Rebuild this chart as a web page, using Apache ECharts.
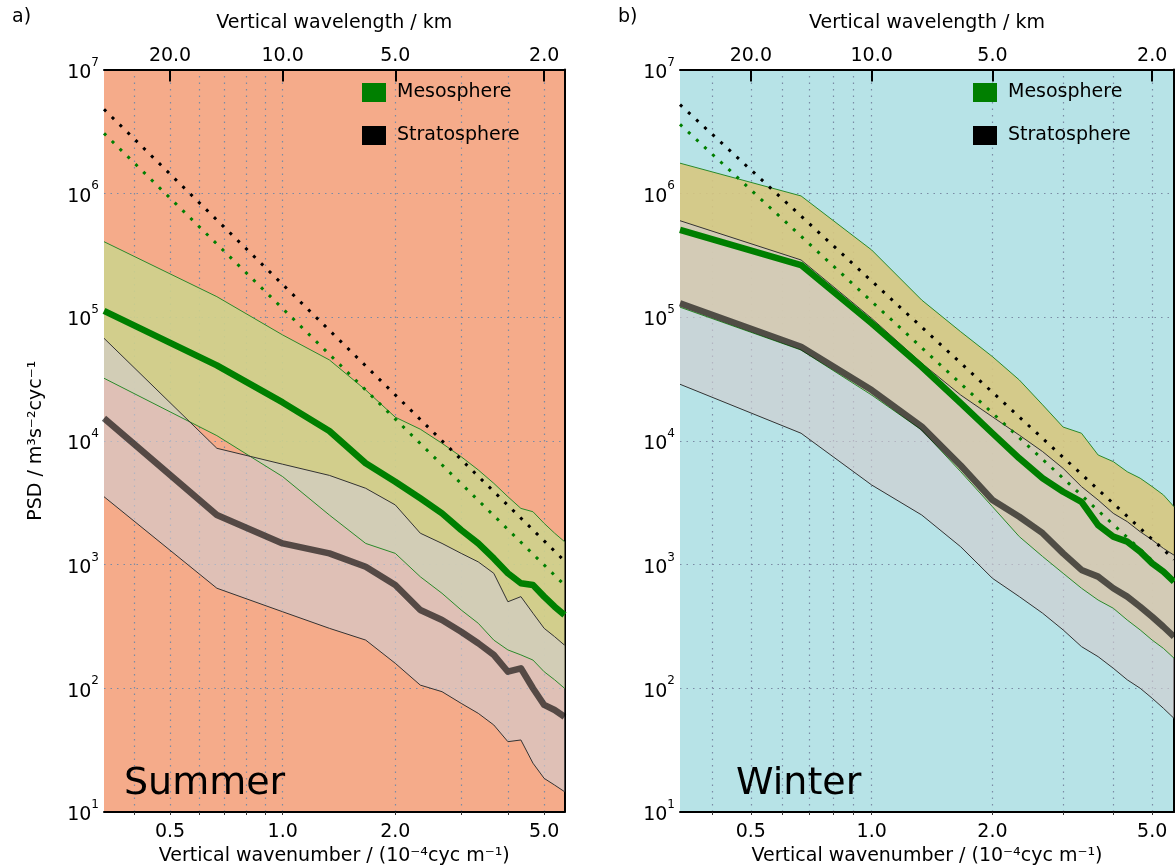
<!DOCTYPE html>
<html>
<head>
<meta charset="utf-8">
<script src="https://cdn.jsdelivr.net/npm/echarts@6/dist/echarts.min.js"></script>
<style>
html,body{margin:0;padding:0;background:#ffffff;}
#chart{width:1175px;height:868px;}
</style>
</head>
<body>
<div id="chart"></div>
<script>
// Vertical wavenumber (10^-4 cyc m^-1) at which the spectra are given
const K = [0.333, 0.667, 1.0, 1.333, 1.667, 2.0, 2.333, 2.667, 3.0, 3.333, 3.667, 4.0, 4.333, 4.667, 5.0, 5.333, 5.667];
const X_MIN = 0.333, X_MAX = 5.667;
const Y_MIN = 10, Y_MAX = 1e7;

// Summer (panel a)
const summerMesoUpper = [4.06e5, 1.46e5, 7.16e4, 4.50e4, 2.57e4, 1.55e4, 1.24e4, 9.53e3, 7.43e3, 5.81e3, 4.53e3, 3.53e3, 2.84e3, 2.67e3, 2.15e3, 1.79e3, 1.53e3];
const summerMesoMean  = [1.12e5, 4.07e4, 2.04e4, 1.20e4, 6.58e3, 4.67e3, 3.43e3, 2.59e3, 1.90e3, 1.48e3, 1.12e3, 849, 705, 682, 550, 456, 391];
const summerMesoLower = [3.20e4, 1.10e4, 5.13e3, 2.51e3, 1.48e3, 1.23e3, 796, 585, 429, 335, 245, 204, 186, 169, 136, 117, 100];
const summerStratUpper = [6.73e4, 8.69e3, 6.46e3, 5.25e3, 4.13e3, 3.03e3, 1.79e3, 1.48e3, 1.23e3, 1.05e3, 849, 500, 550, 404, 305, 261, 223];
const summerStratMean  = [1.52e4, 2.51e3, 1.48e3, 1.23e3, 959, 682, 429, 356, 286, 231, 186, 136, 145, 100, 73.3, 66.7, 58.9];
const summerStratLower = [3.53e3, 643, 415, 305, 245, 159, 106, 93.8, 75.5, 62.7, 50.5, 37.0, 38.2, 24.8, 18.7, 16.5, 14.6];
const summerStratRef = [[0.333, 4.77e6], [5.667, 1.07e3]];
const summerMesoRef  = [[0.333, 3.05e6], [5.667, 683]];

// Winter (panel b)
const winterMesoUpper = [1.75e6, 9.51e5, 3.48e5, 1.37e5, 7.60e4, 4.78e4, 3.10e4, 1.95e4, 1.29e4, 1.15e4, 7.67e3, 6.78e3, 5.62e3, 4.98e3, 4.26e3, 3.65e3, 2.93e3];
const winterMesoMean  = [5.05e5, 2.63e5, 8.89e4, 3.96e4, 2.01e4, 1.15e4, 7.21e3, 4.98e3, 3.87e3, 3.21e3, 2.08e3, 1.68e3, 1.53e3, 1.27e3, 1.02e3, 875, 726];
const winterMesoLower = [1.20e5, 5.41e4, 2.34e4, 1.22e4, 5.62e3, 2.93e3, 1.68e3, 1.16e3, 849, 643, 516, 443, 356, 296, 245, 210, 175];
const winterStratUpper = [6.0e5, 2.89e5, 9.75e4, 4.23e4, 2.34e4, 1.56e4, 1.11e4, 8.17e3, 5.98e3, 4.26e3, 3.32e3, 2.59e3, 2.22e3, 1.84e3, 1.58e3, 1.35e3, 1.19e3];
const winterStratMean  = [1.29e5, 5.75e4, 2.57e4, 1.30e4, 6.31e3, 3.32e3, 2.43e3, 1.79e3, 1.23e3, 904, 798, 643, 550, 456, 378, 314, 261];
const winterStratLower = [2.86e4, 1.15e4, 4.39e3, 2.51e3, 1.39e3, 773, 550, 404, 296, 217, 180, 145, 117, 100, 83.0, 68.9, 57.1];
const winterStratRef = [[0.333, 5.2e6], [5.667, 1.1e3]];
const winterMesoRef  = [[0.333, 3.6e6], [5.667, 740]];

// Ticks and labels
const X_GRID = [0.4, 0.5, 0.6, 0.7, 0.8, 0.9, 1, 2, 3, 4, 5];
const X_TICKS = [0.5, 1, 2, 5];
const X_TICK_LABELS = ['0.5', '1.0', '2.0', '5.0'];
const TOP_TICK_LABELS = ['20.0', '10.0', '5.0', '2.0'];
const Y_TICKS = [10, 100, 1e3, 1e4, 1e5, 1e6, 1e7];
const Y_TICK_EXP = ['1', '2', '3', '4', '5', '6', '7'];

const FONT = 'DejaVu Sans';
const GRID_LINE = {show: true, lineStyle: {color: '#7a8ba5', width: 1.2, type: [1.5, 5]}};

function nearestIdx(arr, v) {
  let best = 0, bd = Infinity;
  for (let i = 0; i < arr.length; i++) {
    const d = Math.abs(Math.log(arr[i]) - Math.log(v));
    if (d < bd) { bd = d; best = i; }
  }
  return best;
}

function axesFor(gridIndex) {
  const bottom = {
    type: 'log', gridIndex: gridIndex, position: 'bottom', min: X_MIN, max: X_MAX,
    name: 'Vertical wavenumber / (10\u207B\u2074cyc m\u207B\u00B9)',
    nameLocation: 'middle', nameGap: 33,
    nameTextStyle: {fontFamily: FONT, fontSize: 19, color: '#000'},
    axisLine: {show: true, lineStyle: {color: '#000', width: 2}},
    axisTick: {show: true, customValues: X_GRID, inside: false, length: 3, lineStyle: {color: '#333', width: 1}},
    axisLabel: {customValues: X_TICKS, margin: 11, fontFamily: FONT, fontSize: 19, color: '#000',
      formatter: v => X_TICK_LABELS[nearestIdx(X_TICKS, v)]},
    splitLine: GRID_LINE,
    minorSplitLine: {show: false}
  };
  const top = {
    type: 'log', gridIndex: gridIndex, position: 'top', min: X_MIN, max: X_MAX,
    name: 'Vertical wavelength / km',
    nameLocation: 'middle', nameGap: 37,
    nameTextStyle: {fontFamily: FONT, fontSize: 19, color: '#000'},
    axisLine: {show: true, lineStyle: {color: '#000', width: 2}},
    axisTick: {show: true, customValues: X_TICKS, inside: true, length: 12, lineStyle: {color: '#000', width: 2}},
    axisLabel: {customValues: X_TICKS, margin: 4, fontFamily: FONT, fontSize: 19, color: '#000',
      formatter: v => TOP_TICK_LABELS[nearestIdx(X_TICKS, v)]},
    splitLine: {show: false}
  };
  return [bottom, top];
}

function yAxesFor(gridIndex, withName) {
  const left = {
    type: 'log', gridIndex: gridIndex, position: 'left', min: Y_MIN, max: Y_MAX,
    name: withName ? 'PSD / m\u00B3s\u207B\u00B2cyc\u207B\u00B9' : '',
    nameLocation: 'middle', nameGap: 58,
    nameTextStyle: {fontFamily: FONT, fontSize: 19, color: '#000'},
    axisLine: {show: false},
    axisTick: {show: false, customValues: Y_TICKS},
    axisLabel: {customValues: Y_TICKS, margin: 5, color: '#000',
      formatter: v => '{b|10}{s|' + Y_TICK_EXP[nearestIdx(Y_TICKS, v)] + '}',
      rich: {
        b: {fontFamily: FONT, fontSize: 19, color: '#000', verticalAlign: 'bottom', lineHeight: 26},
        s: {fontFamily: FONT, fontSize: 12, color: '#000', verticalAlign: 'top', lineHeight: 14}
      }},
    splitLine: GRID_LINE
  };
  const right = {
    type: 'log', gridIndex: gridIndex, position: 'right', min: Y_MIN, max: Y_MAX,
    axisLine: {show: true, lineStyle: {color: '#000', width: 2}},
    axisTick: {show: false}, axisLabel: {show: false}, splitLine: {show: false}
  };
  return [left, right];
}

function band(xi, yi, upper, lower, fill) {
  return {
    type: 'custom', xAxisIndex: xi, yAxisIndex: yi, silent: true, clip: true,
    data: [[K[0], upper[0]]], encode: {x: 0, y: 1},
    renderItem: function (params, api) {
      const pts = [];
      for (let i = 0; i < K.length; i++) pts.push(api.coord([K[i], upper[i]]));
      for (let i = K.length - 1; i >= 0; i--) pts.push(api.coord([K[i], lower[i]]));
      return {type: 'polygon', shape: {points: pts}, style: {fill: fill}};
    }
  };
}

function line(xi, yi, name, ys, color, width, type) {
  return {
    type: 'line', name: name, xAxisIndex: xi, yAxisIndex: yi, silent: true,
    showSymbol: false, symbol: 'none',
    data: ys.map((v, i) => [K[i], v]),
    itemStyle: {color: color},
    lineStyle: {color: color, width: width, type: type || 'solid', join: 'round'}
  };
}

function refLine(xi, yi, pts, color) {
  return {
    type: 'line', name: '', xAxisIndex: xi, yAxisIndex: yi, silent: true,
    showSymbol: false, symbol: 'none', data: pts,
    lineStyle: {color: color, width: 3, type: [3, 8], cap: 'butt'}
  };
}

function panelSeries(xi, yi, d) {
  return [
    band(xi, yi, d.mu, d.ml, d.mesoFill),
    line(xi, yi, 'mesoUpper', d.mu, '#2a8a2a', 1),
    line(xi, yi, 'mesoLower', d.ml, '#2a8a2a', 1),
    band(xi, yi, d.su, d.sl, 'rgba(210,205,207,0.63)'),
    line(xi, yi, 'stratUpper', d.su, '#333333', 1),
    line(xi, yi, 'stratLower', d.sl, '#333333', 1),
    Object.assign(line(xi, yi, 'Stratosphere', d.sm, 'rgba(0,0,0,0.62)', 6.5), {itemStyle: {color: '#000'}}),
    line(xi, yi, 'Mesosphere', d.mm, '#007f00', 6.5),
    refLine(xi, yi, d.sref, '#000000'),
    refLine(xi, yi, d.mref, '#007f00')
  ];
}

const summer = {mu: summerMesoUpper, mm: summerMesoMean, ml: summerMesoLower,
  su: summerStratUpper, sm: summerStratMean, sl: summerStratLower,
  sref: summerStratRef, mref: summerMesoRef, mesoFill: 'rgba(206,209,140,0.9)'};
const winter = {mu: winterMesoUpper, mm: winterMesoMean, ml: winterMesoLower,
  su: winterStratUpper, sm: winterStratMean, sl: winterStratLower,
  sref: winterStratRef, mref: winterMesoRef, mesoFill: 'rgba(215,199,128,0.9)'};

function legendAt(left) {
  return {
    orient: 'vertical', left: left, top: 78, itemWidth: 24, itemHeight: 19, itemGap: 24,
    icon: 'rect', selectedMode: false,
    textStyle: {fontFamily: FONT, fontSize: 19, color: '#000', padding: [0, 0, 0, 6]},
    data: [
      {name: 'Mesosphere', itemStyle: {color: '#007f00', borderWidth: 0}},
      {name: 'Stratosphere', itemStyle: {color: '#000000', borderWidth: 0}}
    ]
  };
}

const chart = echarts.init(document.getElementById('chart'), null, {renderer: 'canvas'});
chart.setOption({
  animation: false,
  backgroundColor: '#ffffff',
  grid: [
    {left: 104, top: 69.5, width: 460.5, height: 742.5, show: true, backgroundColor: '#F5AB8A', borderWidth: 0, outerBoundsMode: 'none'},
    {left: 680, top: 69.5, width: 494, height: 742.5, show: true, backgroundColor: '#B7E3E7', borderWidth: 0, outerBoundsMode: 'none'}
  ],
  xAxis: [].concat(axesFor(0), axesFor(1)),
  yAxis: [].concat(yAxesFor(0, true), yAxesFor(1, false)),
  legend: [legendAt(357), legendAt(968)],
  series: [].concat(panelSeries(0, 0, summer), panelSeries(2, 2, winter)),
  graphic: [
    {type: 'text', left: 12, top: 8, style: {text: 'a)', font: '19px "DejaVu Sans"', fill: '#000'}},
    {type: 'text', left: 618, top: 8, style: {text: 'b)', font: '19px "DejaVu Sans"', fill: '#000'}},
    {type: 'text', left: 124, top: 765, z: 100, style: {text: 'Summer', font: '38px "DejaVu Sans"', fill: '#000'}},
    {type: 'text', left: 736, top: 765, z: 100, style: {text: 'Winter', font: '38px "DejaVu Sans"', fill: '#000'}}
  ]
});
</script>
</body>
</html>
